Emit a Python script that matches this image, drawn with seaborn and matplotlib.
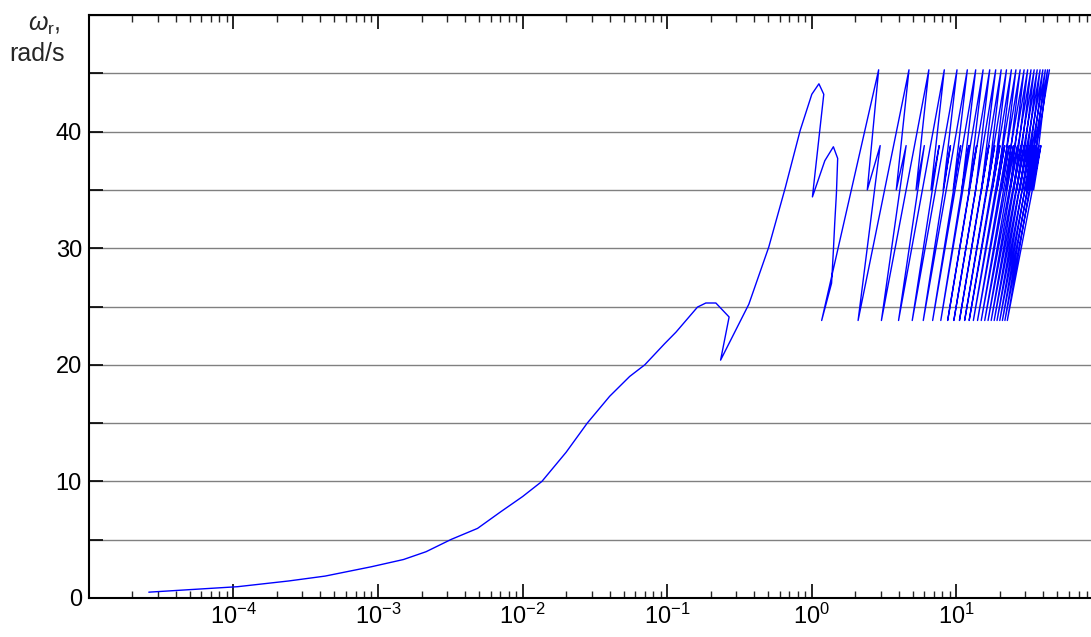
import numpy as np
import pandas as pd
import matplotlib
matplotlib.use("Agg")
import matplotlib.pyplot as plt
import seaborn as sns
from matplotlib.ticker import FixedLocator, MultipleLocator, LogLocator, NullFormatter

# ---------------- data ----------------
# initial smooth part of the trajectory (time [s], speed [rad/s])
ramp_t = [2.6e-5, 1.07e-4, 2.41e-4, 4.31e-4, 9.0e-4, 1.5e-3, 2.15e-3, 3.2e-3, 4.88e-3,
          7.05e-3, 1.0e-2, 1.36e-2, 2.0e-2, 2.8e-2, 4.0e-2, 5.5e-2, 7.0e-2, 9.58e-2,
          0.115, 0.162, 0.185, 0.217, 0.268, 0.234, 0.367, 0.504, 0.656, 0.831,
          1.0, 1.12, 1.21, 1.01, 1.23, 1.41, 1.51, 1.48, 1.44, 1.41, 1.37]
ramp_w = [0.5, 0.97, 1.46, 1.88, 2.68, 3.3, 3.97, 5.02, 5.97,
          7.39, 8.7, 10.0, 12.5, 15.0, 17.3, 19.0, 20.0, 21.8,
          22.8, 24.95, 25.3, 25.3, 24.1, 20.4, 25.2, 30.1, 35.2, 40.1,
          43.2, 44.1, 43.2, 34.4, 37.5, 38.7, 37.7, 34.7, 32.1, 29.8, 27.0]

# saw-tooth part: per-tooth time positions
bottom_t = [1.17, 2.09, 3.03, 3.98, 4.95, 5.9, 6.85, 7.8, 8.7, 9.6, 10.5, 11.4,
            12.25, 13.1, 14.0, 14.85, 15.7, 16.55, 17.4, 18.25, 19.1, 19.95,
            20.8, 21.65, 22.5]
top_t = [2.9, 4.7, 6.45, 8.25, 10.1, 11.9, 13.6, 15.3, 17.0, 18.7, 20.4, 22.2,
         24.0, 25.8, 27.6, 29.4, 31.1, 32.8, 34.5, 36.2, 37.9, 39.6, 41.2, 42.7,
         44.0]
drop_t = [2.42, 3.84, 5.26, 6.67, 8.1, 9.5, 10.9, 12.2, 13.6, 14.9, 16.3, 17.7,
          19.1, 20.6, 22.0, 23.5, 24.9, 26.2, 27.6, 28.9, 30.3, 31.7, 33.0, 34.2]
bump_t = [2.97, 4.49, 6.0, 7.6, 9.1, 10.7, 12.2, 13.8, 15.3, 16.8, 18.4, 20.0,
          21.6, 23.2, 24.8, 26.5, 28.0, 29.5, 31.0, 32.6, 34.1, 35.6, 37.1, 38.4]
bottom_w = 23.8
top_w = 45.3
drop_w = 35.0
bump_w = 38.8

y_ticks = [0, 10, 20, 30, 40]
x_decades = [1e-4, 1e-3, 1e-2, 1e-1, 1e0, 1e1]
x_labels = ["10$^{-4}$", "10$^{-3}$", "10$^{-2}$", "10$^{-1}$", "10$^{0}$", "10$^{1}$"]

# ---------------- build the path ----------------
ts = list(ramp_t)
ws = list(ramp_w)
for k in range(len(top_t)):
    ts += [bottom_t[k], top_t[k]]
    ws += [bottom_w, top_w]
    if k < len(drop_t):
        ts += [drop_t[k], bump_t[k]]
        ws += [drop_w, bump_w]
df = pd.DataFrame({"t": ts, "w": ws})

# ---------------- figure ----------------
sns.set_theme(style="white")
plt.rcParams["font.family"] = ["Liberation Sans", "DejaVu Sans"]
plt.rcParams["mathtext.fontset"] = "custom"
plt.rcParams["mathtext.rm"] = "Liberation Sans"
plt.rcParams["mathtext.it"] = "Liberation Sans:italic"

fig = plt.figure(figsize=(10.91, 6.37), dpi=100)
W, H = 1091, 637
left_px, right_px, top_px, bot_px = 88.8, 88.8 + 7 * 144.6, 15, 598
ax = fig.add_axes([left_px / W, 1 - bot_px / H, (right_px - left_px) / W, (bot_px - top_px) / H])

sns.lineplot(data=df, x="t", y="w", sort=False, estimator=None, color="#0000ff",
             linewidth=1.0, ax=ax)

ax.set_xscale("log")
ax.set_xlim(1e-5, 1e2)
ax.set_ylim(0, 50)

ax.xaxis.set_major_locator(FixedLocator(x_decades))
ax.set_xticklabels(x_labels)
ax.xaxis.set_minor_locator(LogLocator(base=10, subs=np.arange(2, 10), numticks=100))
ax.xaxis.set_minor_formatter(NullFormatter())

ax.yaxis.set_major_locator(FixedLocator(y_ticks))
ax.set_yticklabels([str(v) for v in y_ticks])
ax.yaxis.set_minor_locator(MultipleLocator(5))

ax.grid(which="both", axis="y", color="#808080", linewidth=1.0)
ax.grid(which="both", axis="x", visible=False)

ax.tick_params(axis="x", which="major", direction="in", length=10, width=1.2,
               top=True, bottom=True, labelsize=17, pad=4, colors="black")
ax.tick_params(axis="x", which="minor", direction="in", length=5, width=1.0,
               top=True, bottom=True)
ax.tick_params(axis="y", which="both", direction="in", length=10, width=1.2,
               left=True, right=False, labelsize=17, pad=5, colors="black")

for s in ax.spines.values():
    s.set_color("black")
    s.set_linewidth(1.5)

ax.set_xlabel("")
ax.set_ylabel("")

fig.text(44 / W, 1 - 31 / H, r"$\mathit{\omega}_{\mathrm{r}}$,", ha="center", va="baseline", fontsize=18)
fig.text(37 / W, 1 - 61 / H, "rad/s", ha="center", va="baseline", fontsize=18)

fig.savefig("out.png", dpi=100)
